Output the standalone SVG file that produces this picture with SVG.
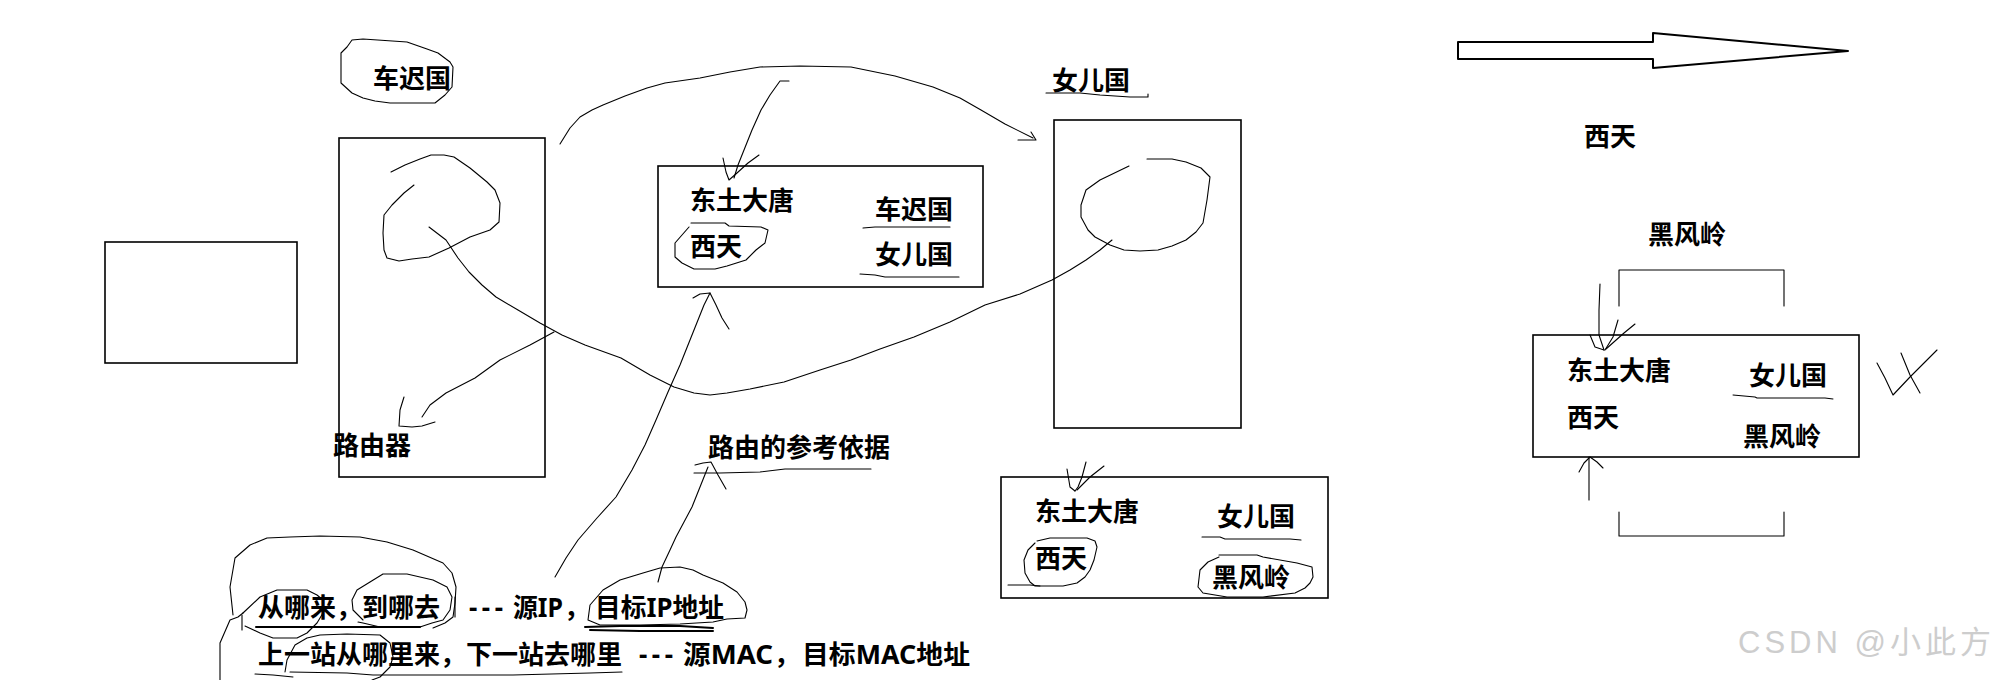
<svg xmlns="http://www.w3.org/2000/svg" width="2006" height="680" viewBox="0 0 2006 680">
<style>
.bg{fill:#ffffff}
.box{fill:none;stroke:#000;stroke-width:1.6}
.ink{fill:none;stroke:#000;stroke-width:1.1;stroke-linejoin:round;stroke-linecap:round}
.ink2{fill:none;stroke:#000;stroke-width:2;stroke-linejoin:round;stroke-linecap:round}
.t{font-family:"Noto Sans","Noto Sans CJK SC",sans-serif;font-weight:bold;font-size:26px;fill:#000}
.wm{font-family:"Liberation Sans","Noto Sans CJK SC",sans-serif;font-size:31px;letter-spacing:4px;fill:#cdcdcd}
</style>
<rect class="bg" x="0" y="0" width="2006" height="680"/>

<g id="host">
<rect class="box" x="105" y="242" width="192" height="121"/>
</g>

<g id="chechi-label">
<text class="t" x="373" y="88">车迟国</text>
</g>

<g id="router">
<rect class="box" x="339" y="138" width="206" height="339"/>
<text class="t" x="333" y="455">路由器</text>
</g>

<g id="table1">
<rect class="box" x="658" y="166" width="325" height="121"/>
<text class="t" x="690" y="210">东土大唐</text>
<text class="t" x="875" y="219">车迟国</text>
<text class="t" x="690" y="256">西天</text>
<text class="t" x="875" y="264">女儿国</text>
</g>

<g id="nver">
<text class="t" x="1052" y="90">女儿国</text>
<rect class="box" x="1054" y="120" width="187" height="308"/>
</g>

<g id="route-basis">
<text class="t" x="708" y="457">路由的参考依据</text>
</g>

<g id="table2">
<rect class="box" x="1001" y="477" width="327" height="121"/>
<text class="t" x="1035" y="521">东土大唐</text>
<text class="t" x="1217" y="526">女儿国</text>
<text class="t" x="1035" y="568">西天</text>
<text class="t" x="1212" y="587">黑风岭</text>
</g>

<g id="west-arrow">
<polygon class="ink2" points="1458,42 1653,42 1653,33 1848,51 1653,68 1653,59 1458,59"/>
<text class="t" x="1584" y="146">西天</text>
</g>

<g id="heifeng">
<text class="t" x="1648" y="244">黑风岭</text>
<path class="ink" d="M1619,306 V270 H1784 V306"/>
<path class="ink" d="M1619,512 V536 H1784 V512"/>
</g>

<g id="table3">
<rect class="box" x="1533" y="335" width="326" height="122"/>
<text class="t" x="1567" y="380">东土大唐</text>
<text class="t" x="1567" y="427">西天</text>
<text class="t" x="1749" y="385">女儿国</text>
<text class="t" x="1743" y="446">黑风岭</text>
</g>

<g id="notes">
<text class="t" y="617"><tspan x="258">从哪来，到哪去</tspan><tspan x="469" textLength="34" lengthAdjust="spacing">---</tspan><tspan x="513" textLength="50" lengthAdjust="spacingAndGlyphs">源IP</tspan><tspan x="564">，</tspan><tspan x="595" textLength="129" lengthAdjust="spacingAndGlyphs">目标IP地址</tspan></text>
<text class="t" y="664"><tspan x="258">上一站从哪里来，下一站去哪里</tspan><tspan x="639" textLength="34" lengthAdjust="spacing">---</tspan><tspan x="683" textLength="90" lengthAdjust="spacingAndGlyphs">源MAC</tspan><tspan x="774">，</tspan><tspan x="802" textLength="168" lengthAdjust="spacingAndGlyphs">目标MAC地址</tspan></text>
</g>

<g id="connectors">
<path class="ink" d="M352,40 L363,39 L407,42 L427,49 L438,53 L450,62 L453,67 L452,87 L445,95 L435,103 L390,103 L375,101 L363,98 L352,93 L341,83 L341,53 L347,47 L352,40"/>
<path class="ink" d="M414,185 L404,193 L392,205 L384,215 L383,233 L384,250 L387,258 L399,261 L412,259 L429,257 L449,248 L470,237 L490,230 L499,222 L500,203 L495,190 L487,182 L470,168 L454,157 L444,155 L431,155 L420,159 L405,165 L391,172"/>
<path class="ink" d="M429,227 L446,240 L458,258 L469,272 L482,285 L496,297 L518,310 L540,323 L562,335 L585,345 L621,358 L650,375 L674,387 L694,393 L710,395 L727,393 L750,389 L784,382 L820,370 L851,360 L880,349 L914,337 L950,322 L985,305 L1020,294 L1052,280 L1070,270 L1086,260 L1100,250 L1112,240"/>
<path class="ink" d="M1129,166 L1100,180 L1086,190 L1081,205 L1081,217 L1088,230 L1095,237 L1110,245 L1124,250 L1140,251 L1158,250 L1172,246 L1186,240 L1196,232 L1203,223 L1207,200 L1210,177 L1201,168 L1186,162 L1172,159 L1160,159 L1147,159"/>
<path class="ink" d="M554,332 L530,345 L500,360 L475,378 L446,393 L430,405 L422,417"/>
<path class="ink" d="M404,397 L400,410 L399,426 L412,427 L422,426 L435,422"/>
<path class="ink" d="M560,144 L570,128 L580,117 L592,110 L603,105 L625,96 L647,88 L665,83 L700,78 L730,72 L760,67 L800,66 L851,67 L895,76 L933,87 L960,98 L981,110 L1005,124 L1033,138"/>
<path class="ink" d="M1018,140 L1028,140 L1036,140 L1031,132"/>
<path class="ink" d="M789,81 L780,81 L770,95 L761,110 L752,130 L744,150 L738,165 L734,178"/>
<path class="ink" d="M723,158 L726,172 L729,180 L737,173 L748,163 L759,155"/>
<path class="ink" d="M555,577 L566,558 L578,540 L597,518 L616,497 L632,470 L645,445 L656,420 L668,392 L680,365 L690,340 L698,320 L704,305 L710,293"/>
<path class="ink" d="M693,298 L700,294 L710,293 L716,305 L722,318 L729,329"/>
<path class="ink" d="M658,582 L662,567 L670,550 L676,537 L684,522 L692,507 L700,487 L708,467"/>
<path class="ink" d="M695,465 L703,463 L711,462 L718,475 L726,489"/>
<path class="ink" d="M694,473 L720,473 L760,472 L785,469 L810,469 L840,469 L871,469"/>
<path class="ink" d="M1067,469 L1070,487 L1075,491"/>
<path class="ink" d="M1086,462 L1082,477 L1078,487 L1075,491"/>
<path class="ink" d="M1104,466 L1090,477 L1077,490"/>
<path class="ink" d="M1600,284 L1599,310 L1599,335 L1604,350"/>
<path class="ink" d="M1590,335 L1595,347 L1604,350"/>
<path class="ink" d="M1618,320 L1613,337 L1605,350"/>
<path class="ink" d="M1635,324 L1624,333 L1606,349"/>
<path class="ink" d="M1589,500 L1589,457"/>
<path class="ink" d="M1579,472 L1584,463 L1590,457 L1597,462 L1603,468"/>
<path class="ink" d="M1877,363 L1885,378 L1893,395 L1910,377 L1925,362 L1937,350"/>
<path class="ink" d="M1901,353 L1910,375 L1920,393"/>
<path class="ink" d="M1046,93 L1080,93 L1100,95 L1130,97 L1148,97 L1148,94"/>
<path class="ink" d="M863,228 L875,227 L950,227"/>
<path class="ink" d="M860,274 L875,275 L885,277 L959,277"/>
<path class="ink" d="M1202,537 L1220,537 L1225,539 L1290,539 L1301,540"/>
<path class="ink" d="M1733,395 L1755,397 L1757,398 L1825,398 L1833,399"/>
<path class="ink" d="M691,223 L725,223 L729,226 L761,227 L768,230 L765,243 L756,250 L746,260 L727,266 L715,269 L694,269 L682,263 L675,257 L675,243 L682,235 L689,227"/>
<path class="ink" d="M1037,541 L1050,538 L1087,538 L1095,541 L1097,547 L1094,560 L1090,570 L1085,577 L1077,583 L1063,586 L1035,586 L1030,582 L1025,573 L1024,560 L1028,550 L1035,543"/>
<path class="ink" d="M1008,585 L1030,585 L1040,586"/>
<path class="ink" d="M1219,555 L1257,555 L1263,557 L1297,563 L1312,567 L1313,577 L1310,583 L1305,588 L1295,593 L1263,597 L1227,597 L1203,593 L1198,587 L1200,570 L1208,562 L1219,557"/>
<path class="ink" d="M233,615 L230,587 L235,558 L250,545 L267,538 L290,537 L320,536 L360,537 L387,542 L413,550 L443,563 L452,573 L456,587 L455,603 L453,617 L445,623 L433,628"/>
<path class="ink" d="M243,613 L260,597 L277,590 L307,590 L317,595 L323,600 L323,613 L317,623 L307,633 L297,638 L273,638 L260,633 L245,626"/>
<path class="ink" d="M363,620 L353,610 L352,600 L357,590 L370,582 L383,574 L407,574 L433,580 L447,587 L452,597 L450,610 L443,620 L432,623 L420,627 L380,627 L363,623 L358,622"/>
<path class="ink2" d="M256,627 L420,627"/>
<path class="ink" d="M455,597 L455,617"/>
<path class="ink" d="M242,615 L242,630"/>
<path class="ink" d="M220,680 L220,643 L230,620 L238,617 L243,613"/>
<path class="ink" d="M285,672 L287,660 L295,645 L307,638 L320,635 L347,634 L380,635 L390,643 L393,657 L390,667 L380,677 L372,680"/>
<path class="ink" d="M290,672 L347,673 L373,675 L513,675 L590,673 L622,672"/>
<path class="ink" d="M255,674 L273,675 L293,677"/>
<path class="ink" d="M588,620 L590,605 L603,590 L620,580 L643,573 L660,568 L680,567 L693,570 L703,575 L723,583 L737,592 L745,602 L747,610 L745,618 L727,619 L713,622 L680,624 L640,625 L600,625 L588,620"/>
<path class="ink2" d="M585,627 L620,626 L680,626 L713,628"/>
<path class="ink2" d="M590,630 L640,631 L700,631 L713,631"/>
</g>

<g id="watermark">
<text class="wm" x="1738" y="653">CSDN @小此方</text>
</g>
</svg>
